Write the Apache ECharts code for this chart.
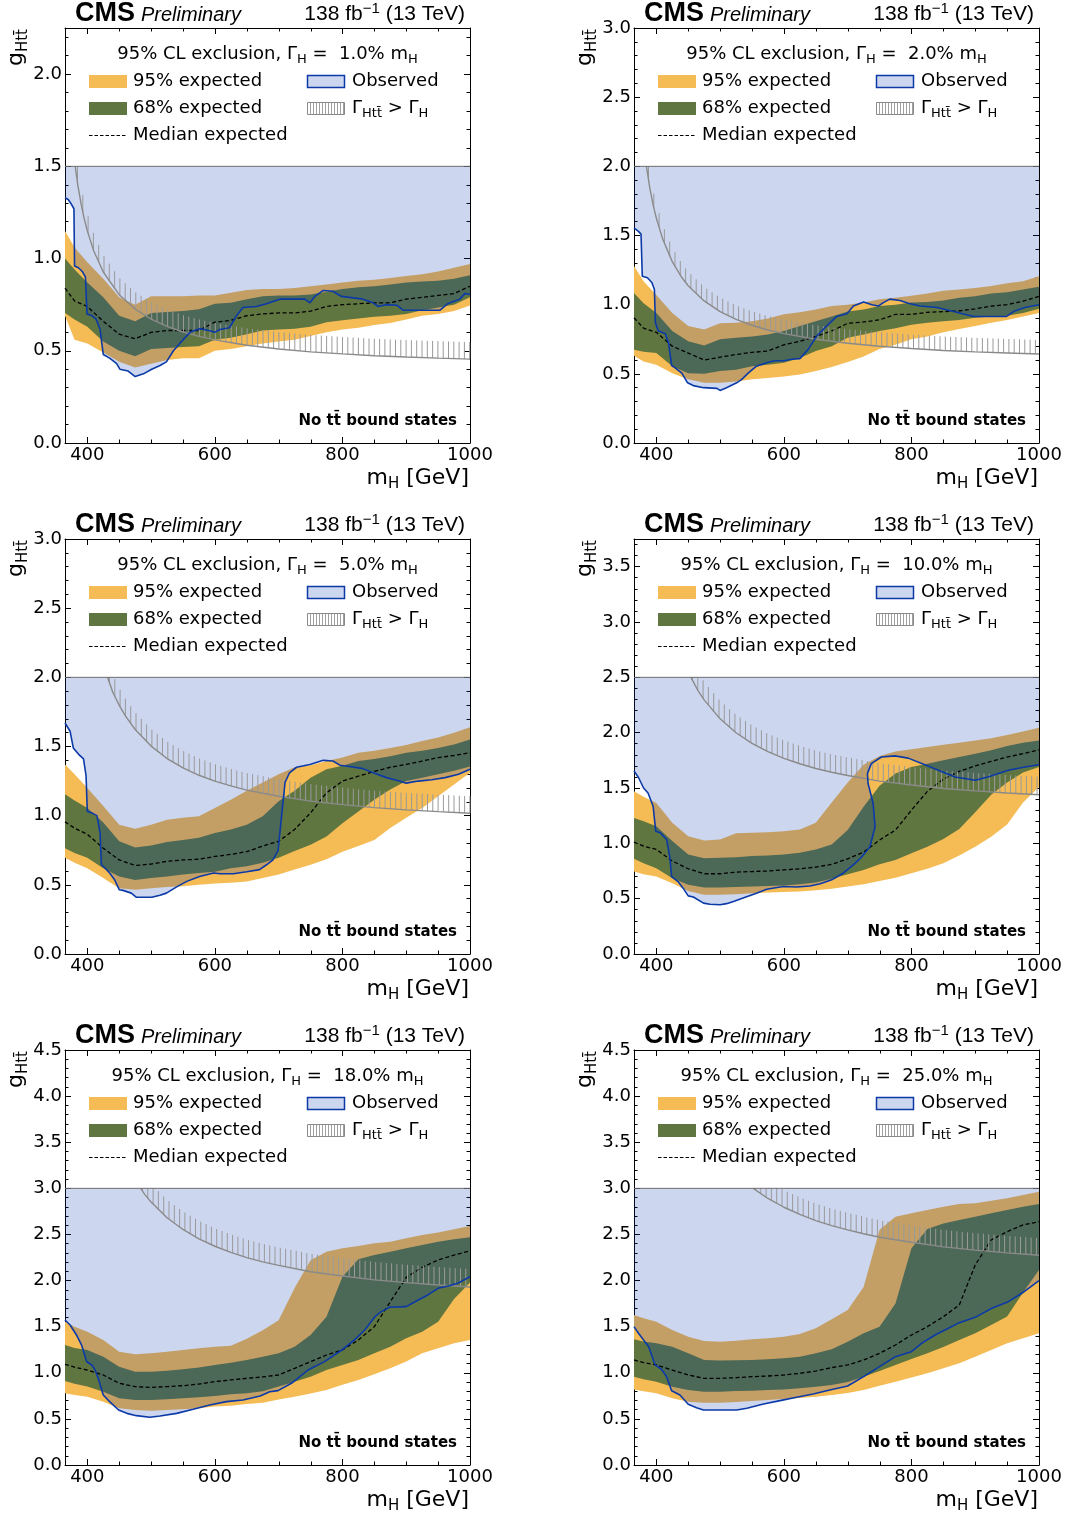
<!DOCTYPE html>
<html>
<head>
<meta charset="utf-8">
<title>CMS g_Htt exclusion limits</title>
<script src="https://cdn.jsdelivr.net/npm/echarts@6.0.0/dist/echarts.min.js"></script>
<style>
html,body{margin:0;padding:0;background:#ffffff;}
#chart{width:1072px;height:1514px;}
</style>
</head>
<body>
<div id="chart"></div>
<script>
// ===================== DATA =====================
const massGrid = [365,380,400,425,450,475,500,525,550,575,600,625,650,675,700,725,750,775,800,825,850,875,900,925,950,975,1000];
const widthLabels = ['1.0%','2.0%','5.0%','10.0%','18.0%','25.0%'];
const yAxisMax = [2.25, 3.0, 3.0, 3.75, 4.5, 4.5];
const legendLevel = [1.5, 2.0, 2.0, 2.5, 3.0, 3.0];
const xTickLabels = [400, 600, 800, 1000];
const xMinorTicks = [450, 500, 550, 650, 700, 750, 850, 900, 950];

// ---- Gamma_H = 1.0% m_H ----
const w1_exp95Up = [1.15,1.06,0.98,0.89,0.79,0.75,0.795,0.795,0.795,0.80,0.80,0.815,0.83,0.835,0.835,0.84,0.85,0.86,0.87,0.88,0.885,0.895,0.905,0.915,0.93,0.95,0.97];
const w1_exp68Up = [1.00,0.94,0.87,0.79,0.69,0.66,0.705,0.71,0.715,0.725,0.755,0.76,0.78,0.795,0.80,0.80,0.805,0.82,0.835,0.845,0.85,0.86,0.87,0.875,0.88,0.89,0.91];
const w1_median  = [0.84,0.77,0.74,0.66,0.59,0.565,0.60,0.61,0.61,0.61,0.655,0.665,0.69,0.70,0.705,0.705,0.715,0.74,0.75,0.755,0.76,0.76,0.78,0.79,0.80,0.81,0.85];
const w1_exp68Dn = [0.705,0.67,0.63,0.55,0.50,0.47,0.51,0.515,0.52,0.525,0.56,0.57,0.59,0.61,0.615,0.62,0.63,0.655,0.665,0.675,0.685,0.69,0.70,0.72,0.735,0.75,0.79];
const w1_exp95Dn = [0.69,0.56,0.54,0.49,0.44,0.41,0.43,0.45,0.46,0.46,0.50,0.51,0.525,0.54,0.55,0.56,0.58,0.60,0.615,0.625,0.64,0.65,0.67,0.69,0.70,0.715,0.745];
const w1_observed = [[365,1.33],[370,1.32],[374,1.30],[379,1.27],[380,0.96],[386,0.95],[392,0.93],[397,0.90],[399.5,0.70],[407,0.69],[414,0.67],[420,0.615],[425,0.48],[435,0.46],[446,0.43],[451,0.40],[464,0.39],[475,0.36],[488,0.375],[501,0.40],[514,0.42],[524,0.44],[535,0.50],[545,0.54],[561,0.60],[576,0.62],[590,0.61],[600,0.60],[608,0.615],[623,0.625],[634,0.69],[644,0.735],[665,0.74],[681,0.755],[702,0.78],[723,0.78],[741,0.78],[749,0.76],[757,0.795],[770,0.827],[785,0.823],[798,0.795],[832,0.78],[848,0.76],[856,0.74],[869,0.75],[885,0.747],[895,0.72],[953,0.72],[965,0.755],[984,0.78],[992,0.81],[1000,0.805]];
const w1_gamma = [[381,1.5],[385,1.40],[390,1.30],[395,1.218],[400,1.15],[410,1.042],[425,0.927],[450,0.804],[475,0.726],[500,0.672],[525,0.632],[550,0.602],[575,0.578],[600,0.559],[650,0.530],[700,0.510],[750,0.494],[800,0.483],[850,0.473],[900,0.466],[950,0.460],[1000,0.455]];

// ---- Gamma_H = 2.0% m_H ----
const w2_exp95Up = [1.28,1.17,1.07,0.94,0.845,0.82,0.865,0.87,0.88,0.90,0.93,0.945,0.965,0.99,1.00,1.015,1.04,1.05,1.065,1.08,1.10,1.11,1.12,1.135,1.155,1.17,1.205];
const w2_exp68Up = [1.085,1.01,0.94,0.81,0.735,0.705,0.75,0.76,0.77,0.785,0.81,0.845,0.88,0.915,0.95,0.965,0.99,1.00,1.015,1.02,1.03,1.05,1.06,1.08,1.09,1.11,1.13];
const w2_median  = [0.905,0.83,0.80,0.70,0.65,0.60,0.62,0.64,0.655,0.665,0.71,0.735,0.77,0.81,0.865,0.875,0.89,0.93,0.93,0.945,0.95,0.955,0.97,0.99,1.00,1.025,1.06];
const w2_exp68Dn = [0.675,0.66,0.65,0.555,0.505,0.50,0.52,0.53,0.555,0.565,0.58,0.615,0.665,0.70,0.76,0.785,0.81,0.83,0.855,0.87,0.88,0.89,0.905,0.915,0.92,0.94,0.97];
const w2_exp95Dn = [0.63,0.59,0.565,0.505,0.46,0.435,0.435,0.445,0.46,0.47,0.48,0.495,0.52,0.55,0.585,0.625,0.68,0.71,0.75,0.77,0.80,0.825,0.845,0.87,0.89,0.915,0.94];
const w2_observed = [[365,1.555],[372,1.53],[376,1.51],[378,1.205],[386,1.195],[393,1.16],[397,1.11],[398.5,0.87],[403,0.81],[414,0.79],[419,0.725],[424,0.56],[429,0.545],[440,0.505],[449,0.435],[458,0.415],[474,0.40],[495,0.395],[500,0.38],[510,0.40],[526,0.435],[534,0.46],[544,0.505],[557,0.555],[573,0.58],[586,0.595],[600,0.595],[612,0.605],[625,0.61],[638,0.675],[651,0.77],[667,0.845],[683,0.915],[699,0.935],[709,0.99],[725,1.02],[738,1.00],[748,0.99],[756,1.015],[766,1.04],[782,1.03],[795,1.01],[813,0.99],[840,0.98],[866,0.95],[897,0.915],[949,0.915],[962,0.955],[978,0.98],[1000,1.00]];
const w2_gamma = [[384.5,2.0],[390,1.837],[395,1.722],[400,1.626],[410,1.474],[425,1.311],[440,1.196],[450,1.137],[475,1.027],[500,0.950],[525,0.894],[550,0.851],[575,0.817],[600,0.791],[650,0.750],[700,0.721],[750,0.699],[800,0.683],[850,0.669],[900,0.659],[950,0.651],[1000,0.643]];

// ---- Gamma_H = 5.0% m_H ----
const w3_exp95Up = [1.37,1.30,1.20,1.07,0.935,0.905,0.935,0.97,0.985,0.995,1.055,1.115,1.18,1.24,1.30,1.35,1.365,1.395,1.42,1.455,1.47,1.49,1.51,1.54,1.565,1.60,1.64];
const w3_exp68Up = [1.155,1.11,1.055,0.95,0.815,0.77,0.785,0.81,0.825,0.84,0.875,0.90,0.935,0.995,1.105,1.18,1.275,1.335,1.36,1.395,1.41,1.43,1.455,1.47,1.49,1.515,1.55];
const w3_median  = [0.955,0.91,0.865,0.765,0.68,0.64,0.65,0.67,0.68,0.685,0.705,0.72,0.74,0.78,0.815,0.90,1.02,1.165,1.25,1.285,1.32,1.35,1.37,1.395,1.42,1.435,1.455];
const w3_exp68Dn = [0.765,0.73,0.695,0.62,0.56,0.535,0.55,0.56,0.575,0.585,0.595,0.62,0.635,0.66,0.695,0.745,0.79,0.85,0.945,1.03,1.115,1.19,1.25,1.275,1.30,1.325,1.355];
const w3_exp95Dn = [0.695,0.66,0.62,0.55,0.475,0.465,0.475,0.485,0.49,0.50,0.51,0.515,0.525,0.55,0.575,0.61,0.645,0.685,0.74,0.78,0.825,0.91,0.985,1.055,1.14,1.225,1.31];
const w3_observed = [[365,1.67],[373,1.61],[378,1.49],[386,1.445],[394,1.41],[398,1.29],[400,1.03],[407,1.02],[415,1.00],[420,0.875],[422,0.645],[428,0.62],[435,0.585],[443,0.535],[450,0.465],[456,0.46],[469,0.44],[477,0.41],[501,0.41],[514,0.425],[524,0.44],[540,0.485],[556,0.525],[576,0.56],[598,0.585],[608,0.58],[629,0.58],[650,0.595],[670,0.61],[681,0.645],[691,0.68],[699,0.745],[704,0.97],[710,1.24],[717,1.31],[728,1.35],[749,1.37],[770,1.40],[785,1.395],[796,1.365],[811,1.355],[832,1.34],[848,1.31],[869,1.275],[889,1.25],[900,1.235],[919,1.25],[940,1.26],[961,1.275],[982,1.30],[1000,1.335]];
const w3_gamma = [[431.7,2.0],[440,1.892],[450,1.798],[460,1.720],[475,1.623],[500,1.503],[525,1.413],[550,1.346],[575,1.292],[600,1.250],[625,1.215],[650,1.185],[700,1.140],[750,1.105],[800,1.080],[850,1.058],[900,1.042],[950,1.029],[1000,1.017]];

// ---- Gamma_H = 10.0% m_H ----
const w4_exp95Up = [1.47,1.42,1.365,1.185,1.065,1.025,1.035,1.09,1.095,1.10,1.11,1.125,1.185,1.37,1.55,1.71,1.79,1.83,1.85,1.87,1.89,1.91,1.93,1.95,1.98,2.01,2.045];
const w4_exp68Up = [1.23,1.20,1.155,1.02,0.90,0.865,0.87,0.875,0.885,0.89,0.90,0.915,0.945,0.99,1.12,1.33,1.52,1.63,1.69,1.72,1.75,1.78,1.81,1.84,1.88,1.91,1.93];
const w4_median  = [1.01,0.975,0.945,0.84,0.77,0.725,0.725,0.74,0.745,0.75,0.76,0.77,0.785,0.81,0.86,0.92,1.03,1.12,1.30,1.47,1.58,1.65,1.70,1.74,1.78,1.81,1.845];
const w4_exp68Dn = [0.86,0.82,0.775,0.685,0.625,0.60,0.60,0.605,0.61,0.615,0.62,0.63,0.645,0.68,0.72,0.76,0.81,0.85,0.91,0.97,1.04,1.13,1.28,1.44,1.55,1.64,1.69];
const w4_exp95Dn = [0.745,0.72,0.70,0.64,0.57,0.535,0.535,0.54,0.55,0.555,0.56,0.565,0.575,0.59,0.61,0.63,0.66,0.69,0.73,0.77,0.82,0.89,0.97,1.06,1.17,1.37,1.51];
const w4_observed = [[365,1.655],[372,1.595],[380,1.50],[387,1.455],[395,1.335],[399,1.11],[406,1.095],[416,1.035],[421,0.88],[424,0.70],[434,0.655],[442,0.595],[450,0.525],[458,0.515],[474,0.46],[484,0.45],[500,0.445],[510,0.455],[521,0.475],[536,0.505],[557,0.55],[573,0.585],[599,0.61],[620,0.605],[641,0.615],[657,0.635],[675,0.67],[693,0.73],[709,0.805],[721,0.87],[735,0.97],[743,1.15],[740,1.36],[732,1.54],[731,1.63],[737,1.72],[753,1.78],[774,1.79],[795,1.77],[821,1.71],[847,1.65],[868,1.60],[900,1.57],[920,1.60],[952,1.66],[978,1.69],[1000,1.71]];
const w4_gamma = [[454.3,2.5],[465,2.383],[475,2.296],[500,2.125],[525,1.999],[550,1.904],[575,1.828],[600,1.768],[625,1.719],[650,1.676],[675,1.642],[700,1.613],[750,1.562],[800,1.527],[850,1.496],[900,1.474],[950,1.455],[1000,1.439]];

// ---- Gamma_H = 18.0% m_H ----
const w5_exp95Up = [1.554,1.50,1.446,1.356,1.229,1.20,1.211,1.229,1.247,1.265,1.283,1.294,1.37,1.46,1.57,1.92,2.22,2.313,2.35,2.375,2.404,2.422,2.458,2.494,2.52,2.556,2.592];
const w5_exp68Up = [1.301,1.27,1.247,1.175,1.066,1.012,1.012,1.023,1.037,1.056,1.085,1.11,1.139,1.175,1.211,1.283,1.41,1.608,2.042,2.23,2.277,2.313,2.35,2.386,2.422,2.447,2.469];
const w5_median  = [1.092,1.06,1.03,0.976,0.886,0.85,0.842,0.85,0.86,0.878,0.904,0.922,0.94,0.955,0.976,1.048,1.121,1.193,1.247,1.356,1.50,1.77,2.035,2.144,2.223,2.277,2.321];
const w5_exp68Dn = [0.911,0.88,0.85,0.795,0.723,0.705,0.705,0.712,0.723,0.734,0.748,0.766,0.777,0.80,0.85,0.904,0.958,1.03,1.085,1.139,1.211,1.283,1.374,1.446,1.554,1.80,1.98];
const w5_exp95Dn = [0.777,0.76,0.74,0.687,0.615,0.596,0.589,0.596,0.604,0.615,0.633,0.643,0.661,0.676,0.71,0.74,0.775,0.813,0.87,0.922,0.985,1.048,1.121,1.211,1.265,1.32,1.356];
const w5_observed = [[365,1.572],[373,1.518],[383,1.41],[391,1.301],[399,1.12],[407,1.084],[412,1.03],[417,0.94],[425,0.759],[435,0.687],[449,0.596],[462,0.56],[477,0.535],[498,0.517],[514,0.532],[540,0.56],[566,0.604],[592,0.651],[618,0.687],[644,0.705],[671,0.748],[686,0.795],[699,0.806],[720,0.886],[746,1.03],[772,1.121],[799,1.247],[819,1.356],[835,1.464],[851,1.608],[861,1.663],[874,1.71],[900,1.717],[919,1.789],[934,1.844],[950,1.916],[966,1.941],[981,1.97],[1000,2.042]];
const w5_gamma = [[483.7,3.0],[490,2.934],[500,2.851],[525,2.681],[550,2.554],[575,2.452],[600,2.372],[625,2.306],[650,2.249],[675,2.203],[700,2.164],[750,2.096],[800,2.049],[850,2.007],[900,1.977],[950,1.952],[1000,1.930]];

// ---- Gamma_H = 25.0% m_H ----
const w6_exp95Up = [1.627,1.59,1.554,1.464,1.392,1.345,1.337,1.348,1.363,1.374,1.392,1.421,1.482,1.58,1.681,1.93,2.55,2.693,2.729,2.765,2.801,2.83,2.838,2.866,2.892,2.928,2.964];
const w6_exp68Up = [1.363,1.34,1.32,1.283,1.211,1.139,1.132,1.135,1.139,1.146,1.157,1.175,1.211,1.254,1.337,1.428,1.50,1.75,2.35,2.56,2.62,2.657,2.693,2.729,2.765,2.801,2.83];
const w6_median  = [1.139,1.11,1.085,1.03,0.976,0.94,0.94,0.947,0.958,0.965,0.976,0.994,1.019,1.056,1.085,1.139,1.211,1.301,1.41,1.50,1.608,1.735,2.169,2.44,2.53,2.603,2.639];
const w6_exp68Dn = [0.958,0.93,0.904,0.849,0.813,0.795,0.795,0.802,0.806,0.813,0.82,0.831,0.849,0.867,0.90,0.958,1.02,1.085,1.15,1.211,1.28,1.356,1.428,1.518,1.609,1.87,2.115];
const w6_exp95Dn = [0.82,0.80,0.777,0.723,0.687,0.676,0.676,0.683,0.694,0.705,0.716,0.727,0.74,0.759,0.78,0.813,0.86,0.904,0.95,0.994,1.05,1.103,1.175,1.247,1.319,1.374,1.428];
const w6_observed = [[365,1.50],[372,1.428],[380,1.355],[388,1.283],[398,1.085],[408,1.038],[416,0.958],[424,0.806],[437,0.759],[450,0.658],[463,0.622],[474,0.596],[500,0.596],[526,0.596],[542,0.615],[568,0.662],[594,0.698],[620,0.734],[646,0.77],[672,0.813],[700,0.857],[725,0.958],[750,1.066],[775,1.175],[800,1.229],[816,1.319],[837,1.41],[858,1.482],[873,1.536],[900,1.601],[926,1.699],[952,1.771],[973,1.862],[1000,2.0]];
const w6_gamma = [[552,3.0],[575,2.89],[600,2.795],[625,2.718],[650,2.65],[675,2.596],[700,2.55],[725,2.508],[750,2.47],[800,2.415],[850,2.365],[900,2.33],[950,2.30],[1000,2.275]];

// ===================== LAYOUT / STYLE =====================
const gridLeft = [65, 634, 65, 634, 65, 634];
const gridTop = [28, 28, 539, 539, 1050, 1050];
const GW = 405, GH = 415;
const XMIN = 365, XMAX = 1000;
const hatchLen = [17, 14, 17, 18, 18, 17];
const FF = 'DejaVu Sans';
const C95 = '#F5BB54', C68 = '#607641', COBS = '#0b3aa8', CFILL = 'rgba(0,51,170,0.2)';

const panels = [
  {up95:w1_exp95Up, up68:w1_exp68Up, med:w1_median, dn68:w1_exp68Dn, dn95:w1_exp95Dn, obs:w1_observed, gam:w1_gamma},
  {up95:w2_exp95Up, up68:w2_exp68Up, med:w2_median, dn68:w2_exp68Dn, dn95:w2_exp95Dn, obs:w2_observed, gam:w2_gamma},
  {up95:w3_exp95Up, up68:w3_exp68Up, med:w3_median, dn68:w3_exp68Dn, dn95:w3_exp95Dn, obs:w3_observed, gam:w3_gamma},
  {up95:w4_exp95Up, up68:w4_exp68Up, med:w4_median, dn68:w4_exp68Dn, dn95:w4_exp95Dn, obs:w4_observed, gam:w4_gamma},
  {up95:w5_exp95Up, up68:w5_exp68Up, med:w5_median, dn68:w5_exp68Dn, dn95:w5_exp95Dn, obs:w5_observed, gam:w5_gamma},
  {up95:w6_exp95Up, up68:w6_exp68Up, med:w6_median, dn68:w6_exp68Dn, dn95:w6_exp95Dn, obs:w6_observed, gam:w6_gamma}
];

const grids = [], xAxes = [], yAxes = [], series = [], graphics = [];

function bandSeries(pi, up, dn, color, z) {
  return {
    type: 'custom', xAxisIndex: 2*pi, yAxisIndex: 2*pi, z: z, silent: true, animation: false,
    data: [[massGrid[0], dn[0]]],
    renderItem: function (params, api) {
      const pts = [];
      for (let k = 0; k < massGrid.length; k++) pts.push(api.coord([massGrid[k], up[k]]));
      for (let k = massGrid.length - 1; k >= 0; k--) pts.push(api.coord([massGrid[k], dn[k]]));
      return {type: 'polygon', shape: {points: pts}, style: {fill: color}};
    }
  };
}

panels.forEach(function (p, pi) {
  const L = legendLevel[pi], yMax = yAxisMax[pi];
  grids.push({left: gridLeft[pi], top: gridTop[pi], width: GW, height: GH, containLabel: false, outerBoundsMode: 'none', show: false});
  const axLine = {show: true, onZero: false, lineStyle: {color: '#000', width: 1}};
  // bottom x
  xAxes.push({
    type: 'value', gridIndex: pi, position: 'bottom', min: XMIN, max: XMAX,
    axisLine: axLine, splitLine: {show: false},
    axisTick: {show: true, inside: true, length: 6, customValues: xTickLabels, lineStyle: {color: '#000', width: 1}},
    axisLabel: {show: true, customValues: xTickLabels, margin: 3, fontFamily: FF, fontSize: 18, color: '#000',
      formatter: function (v) { return String(Math.round(v)); }}
  });
  // top x
  xAxes.push({
    type: 'value', gridIndex: pi, position: 'top', min: XMIN, max: XMAX,
    axisLine: axLine, splitLine: {show: false},
    axisTick: {show: true, inside: true, length: 6, customValues: xTickLabels, lineStyle: {color: '#000', width: 1}},
    axisLabel: {show: false}
  });
  const yCommon = {
    type: 'value', gridIndex: pi, min: 0, max: yMax, interval: 0.5,
    axisLine: axLine, splitLine: {show: false}, minorSplitLine: {show: false},
    axisTick: {show: true, inside: true, length: 6, lineStyle: {color: '#000', width: 1}},
    minorTick: {show: true, splitNumber: 5, length: 3.5, lineStyle: {color: '#000', width: 1}}
  };
  yAxes.push(Object.assign({}, yCommon, {
    position: 'left',
    axisLabel: {show: true, margin: 3, fontFamily: FF, fontSize: 18, color: '#000',
      showMaxLabel: (Math.abs(yMax / 0.5 - Math.round(yMax / 0.5)) < 1e-9),
      formatter: function (v) { return v.toFixed(1); }}
  }));
  yAxes.push(Object.assign({}, yCommon, {position: 'right', axisLabel: {show: false}}));

  const xi = 2*pi, yi = 2*pi;
  series.push(bandSeries(pi, p.up95, p.dn95, C95, 1));
  series.push(bandSeries(pi, p.up68, p.dn68, C68, 2));
  // observed exclusion fill (above observed limit up to the legend boundary)
  series.push({
    type: 'custom', xAxisIndex: xi, yAxisIndex: yi, z: 3, silent: true, animation: false,
    data: [[XMIN, L]],
    renderItem: function (params, api) {
      const pts = p.obs.map(function (d) { return api.coord(d); });
      pts.push(api.coord([XMAX, L]));
      pts.push(api.coord([XMIN, L]));
      return {type: 'polygon', shape: {points: pts}, style: {fill: CFILL}};
    }
  });
  // median expected
  series.push({
    type: 'line', xAxisIndex: xi, yAxisIndex: yi, z: 4, silent: true, animation: false,
    symbol: 'none', showSymbol: false,
    data: massGrid.map(function (m, k) { return [m, p.med[k]]; }),
    lineStyle: {color: '#000', width: 1.3, type: [4, 2.5]}
  });
  // Gamma_Htt = Gamma_H curve
  series.push({
    type: 'line', xAxisIndex: xi, yAxisIndex: yi, z: 5, silent: true, animation: false,
    symbol: 'none', showSymbol: false, data: p.gam,
    lineStyle: {color: '#8a8a8a', width: 1.4}
  });
  // hatching above the curve
  series.push({
    type: 'custom', xAxisIndex: xi, yAxisIndex: yi, z: 5, silent: true, animation: false,
    data: [[XMIN, L]],
    renderItem: function (params, api) {
      const pts = p.gam.map(function (d) { return api.coord(d); });
      const yTop = api.coord([XMIN, L])[1];
      const H = hatchLen[pi];
      const children = [];
      let seg = 0;
      const x0 = pts[0][0], x1 = pts[pts.length - 1][0];
      for (let x = Math.floor(x0) + 2.5; x <= x1; x += 5.3) {
        while (seg < pts.length - 2 && pts[seg + 1][0] < x) seg++;
        const a = pts[seg], b = pts[seg + 1];
        const t = (x - a[0]) / (b[0] - a[0]);
        const y = a[1] + t * (b[1] - a[1]);
        const yt = Math.max(y - H, yTop);
        if (y - yt > 0.5) {
          children.push({type: 'line', shape: {x1: x, y1: y, x2: x, y2: yt}, style: {stroke: '#9a9a9a', lineWidth: 1}});
        }
      }
      return {type: 'group', children: children};
    }
  });
  // observed limit line
  series.push({
    type: 'line', xAxisIndex: xi, yAxisIndex: yi, z: 6, silent: true, animation: false,
    symbol: 'none', showSymbol: false, data: p.obs,
    lineStyle: {color: COBS, width: 1.6}
  });
  // legend boundary line
  series.push({
    type: 'line', xAxisIndex: xi, yAxisIndex: yi, z: 6, silent: true, animation: false,
    symbol: 'none', showSymbol: false, data: [[XMIN, L], [XMAX, L]],
    lineStyle: {color: '#6e6e6e', width: 1}
  });
  // minor x ticks (bottom and top)
  series.push({
    type: 'custom', xAxisIndex: xi, yAxisIndex: yi, z: 7, silent: true, animation: false,
    data: [[XMIN, 0]],
    renderItem: function (params, api) {
      const yb = api.coord([XMIN, 0])[1], yt = api.coord([XMIN, yMax])[1];
      const children = [];
      xMinorTicks.forEach(function (v) {
        const x = Math.round(api.coord([v, 0])[0]) + 0.5;
        children.push({type: 'line', shape: {x1: x, y1: yb, x2: x, y2: yb - 3.5}, style: {stroke: '#000', lineWidth: 1}});
        children.push({type: 'line', shape: {x1: x, y1: yt, x2: x, y2: yt + 3.5}, style: {stroke: '#000', lineWidth: 1}});
      });
      return {type: 'group', children: children};
    }
  });

  // ---------- decorations ----------
  const gx = gridLeft[pi], gy = gridTop[pi];
  function T(x, y, text, o) {
    o = o || {};
    const st = {
      text: text, fill: '#000',
      fontFamily: o.ff || FF, fontSize: o.fs || 18, fontWeight: o.fw || 'normal', fontStyle: o.fst || 'normal',
      align: o.align || 'left', verticalAlign: o.va || 'middle',
      textAlign: o.align || 'left', textVerticalAlign: o.va || 'middle'
    };
    if (o.lh) st.lineHeight = o.lh;
    if (o.rich) st.rich = o.rich;
    return {type: 'text', x: x, y: y, rotation: o.rot || 0, silent: true, z: 100, style: st};
  }
  const lr = {
    b: {fontFamily: FF, fontSize: 18, lineHeight: 24, fill: '#000'},
    s: {fontFamily: FF, fontSize: 13, lineHeight: 14, verticalAlign: 'bottom', fill: '#000'}
  };
  // header
  graphics.push(T(gx + 10, gy - 14, 'CMS', {ff: 'Liberation Sans', fs: 27, fw: 'bold'}));
  graphics.push(T(gx + 76, gy - 13, 'Preliminary', {ff: 'Liberation Sans', fs: 20, fst: 'italic'}));
  graphics.push(T(gx + 400, gy - 14, '{n|138 fb}{p|\u22121}{n| (13 TeV)}', {
    ff: 'Liberation Sans', fs: 21, lh: 26, align: 'right',
    rich: {
      n: {fontFamily: 'Liberation Sans', fontSize: 21, lineHeight: 26, fill: '#000'},
      p: {fontFamily: 'Liberation Sans', fontSize: 15, lineHeight: 15, verticalAlign: 'top', fill: '#000'}
    }
  }));
  // legend
  graphics.push(T(gx + GW / 2, gy + 26, '{b|95% CL exclusion, \u0393}{s|H}{b| =  ' + widthLabels[pi] + ' m}{s|H}', {align: 'center', lh: 24, rich: lr}));
  graphics.push({type: 'rect', silent: true, z: 100, shape: {x: gx + 24, y: gy + 47, width: 38, height: 13}, style: {fill: C95}});
  graphics.push(T(gx + 68, gy + 53, '95% expected'));
  graphics.push({type: 'rect', silent: true, z: 100, shape: {x: gx + 24, y: gy + 74, width: 38, height: 13}, style: {fill: C68}});
  graphics.push(T(gx + 68, gy + 80, '68% expected'));
  graphics.push({type: 'line', silent: true, z: 100, shape: {x1: gx + 24, y1: gy + 107.5, x2: gx + 62, y2: gy + 107.5}, style: {stroke: '#000', lineWidth: 1.2, lineDash: [3.5, 2]}});
  graphics.push(T(gx + 68, gy + 107, 'Median expected'));
  graphics.push({type: 'rect', silent: true, z: 100, shape: {x: gx + 242.5, y: gy + 47.5, width: 37, height: 12}, style: {fill: CFILL, stroke: COBS, lineWidth: 1.5}});
  graphics.push(T(gx + 287, gy + 53, 'Observed'));
  const hatchKids = [];
  for (let hx = gx + 245.5; hx < gx + 279; hx += 3) {
    hatchKids.push({type: 'line', shape: {x1: hx, y1: gy + 74.5, x2: hx, y2: gy + 86.5}, style: {stroke: '#a0a0a0', lineWidth: 1}});
  }
  hatchKids.push({type: 'rect', shape: {x: gx + 242.5, y: gy + 74.5, width: 37, height: 12}, style: {fill: 'none', stroke: '#8a8a8a', lineWidth: 1}});
  graphics.push({type: 'group', silent: true, z: 100, children: hatchKids});
  graphics.push(T(gx + 287, gy + 80, '{b|\u0393}{s|Htt\u0304}{b| > \u0393}{s|H}', {lh: 24, rich: lr}));
  // annotation
  graphics.push(T(gx + 392, gy + 393, 'No tt\u0304 bound states', {fs: 15, fw: 'bold', align: 'right'}));
  // axis titles
  graphics.push(T(gx + 404, gy + 450, '{m|m}{s|H}{m| [GeV]}', {
    align: 'right', fs: 22, lh: 28,
    rich: {
      m: {fontFamily: FF, fontSize: 22, lineHeight: 28, fill: '#000'},
      s: {fontFamily: FF, fontSize: 15, lineHeight: 16, verticalAlign: 'bottom', fill: '#000'}
    }
  }));
  graphics.push(T(gx - 49, gy + 1, '{g|g}{s|Htt\u0304}', {
    align: 'right', fs: 22, lh: 30, rot: Math.PI / 2,
    rich: {
      g: {fontFamily: FF, fontSize: 22, lineHeight: 30, fill: '#000'},
      s: {fontFamily: FF, fontSize: 15, lineHeight: 16, verticalAlign: 'bottom', fill: '#000'}
    }
  }));
});

const chart = echarts.init(document.getElementById('chart'), null, {renderer: 'canvas', width: 1072, height: 1514});
chart.setOption({
  backgroundColor: '#ffffff',
  animation: false,
  grid: grids,
  xAxis: xAxes,
  yAxis: yAxes,
  series: series,
  graphic: {elements: graphics}
});
</script>
</body>
</html>
